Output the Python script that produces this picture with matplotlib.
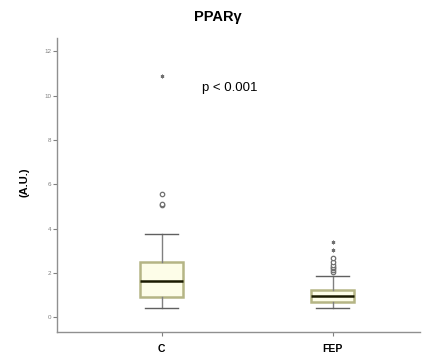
import matplotlib
matplotlib.use("Agg")
import matplotlib.pyplot as plt

plt.rcParams['font.family'] = ['Liberation Sans', 'DejaVu Sans']

categories = ["C", "FEP"]
# box stats: whislo, q1, med, q3, whishi
q1 = [0.92, 0.69]
med = [1.64, 0.95]
q3 = [2.49, 1.22]
whislo = [0.42, 0.39]
whishi = [3.77, 1.87]
circle_outliers = [[5.05, 5.12, 5.57], [2.05, 2.12, 2.2, 2.28, 2.36, 2.5, 2.65]]
star_outliers = [[10.9], [3.03, 3.41]]
yticks = [0, 2, 4, 6, 8, 10, 12]
title = "PPARγ"
ylabel = "(A.U.)"
annotation = "p < 0.001"

fig = plt.figure(figsize=(4.22, 3.61), dpi=100)
ax = fig.add_axes([0.135, 0.081, 0.86, 0.815])

stats = []
for i, c in enumerate(categories):
    stats.append(dict(label=c, whislo=whislo[i], q1=q1[i], med=med[i], q3=q3[i],
                      whishi=whishi[i], fliers=[]))
positions = [1, 2]
ax.bxp(stats, positions=positions, widths=0.25, patch_artist=True, showfliers=False,
       boxprops=dict(facecolor='#fdfde8', edgecolor='#b5b585', linewidth=1.8),
       medianprops=dict(color='#1a1a00', linewidth=1.8),
       whiskerprops=dict(color='#808080', linewidth=1.0),
       capprops=dict(color='#606060', linewidth=1.0),
       capwidths=0.19)

for i, p in enumerate(positions):
    ax.plot([p] * len(circle_outliers[i]), circle_outliers[i], 'o', ms=3.2,
            mfc='white', mec='#707070', mew=0.9, zorder=4)
    ax.plot([p] * len(star_outliers[i]), star_outliers[i], marker=(6, 2, 0), ls='none',
            ms=2.6, mec='#707070', mew=0.7, zorder=4)

ax.set_xlim(0.388, 2.51)
ax.set_ylim(-0.66, 12.62)
ax.set_yticks(yticks)
ax.set_yticklabels([str(t) for t in yticks], fontsize=4.5, color='#808080')
ax.set_xticks(positions)
ax.set_xticklabels(categories, fontsize=7.5, fontweight='bold')
ax.tick_params(axis='y', length=3, width=0.8, color='#808080', pad=1)
ax.tick_params(axis='x', length=3, width=0.8, color='#808080', pad=6)
for s in ['top', 'right']:
    ax.spines[s].set_visible(False)
for s in ['left', 'bottom']:
    ax.spines[s].set_color('#909090')
    ax.spines[s].set_linewidth(1.0)

ax.set_ylabel(ylabel, fontsize=8, fontweight='bold')
ax.yaxis.set_label_coords(-0.075, 0.507)
fig.text(0.517, 0.952, title, ha='center', va='center', fontsize=10.5, fontweight='bold')
ax.text(1.40, 10.36, annotation, ha='center', va='center', fontsize=9.5)

fig.savefig("out.png", dpi=100)
